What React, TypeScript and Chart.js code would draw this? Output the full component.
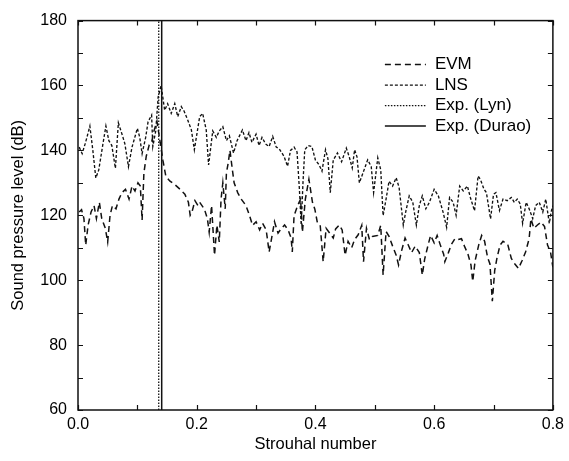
import React, { useEffect, useRef } from "react";
import { Chart, registerables } from "chart.js";
Chart.register(...registerables);

// ---- data ----
const strouhalLns = [
  0.002, 0.007, 0.012, 0.015, 0.020, 0.025, 0.030, 0.035, 0.042, 0.047,
  0.052, 0.057, 0.063, 0.068, 0.075, 0.079, 0.085, 0.091, 0.100, 0.104,
  0.108, 0.114, 0.118, 0.124, 0.126, 0.131, 0.135, 0.140, 0.146, 0.151,
  0.157, 0.163, 0.168, 0.174, 0.179, 0.185, 0.191, 0.196, 0.205, 0.210,
  0.216, 0.220, 0.227, 0.233, 0.238, 0.244, 0.250, 0.255, 0.262, 0.268,
  0.277, 0.283, 0.288, 0.293, 0.300, 0.305, 0.310, 0.316, 0.322, 0.328,
  0.334, 0.339, 0.347, 0.353, 0.358, 0.364, 0.369, 0.373, 0.376, 0.379,
  0.382, 0.388, 0.394, 0.400, 0.406, 0.411, 0.417, 0.421, 0.425, 0.430,
  0.437, 0.444, 0.452, 0.457, 0.462, 0.466, 0.470, 0.474, 0.480, 0.488,
  0.494, 0.498, 0.505, 0.510, 0.514, 0.519, 0.524, 0.530, 0.536, 0.541,
  0.548, 0.552, 0.558, 0.564, 0.570, 0.575, 0.580, 0.586, 0.592, 0.600,
  0.607, 0.615, 0.621, 0.626, 0.632, 0.637, 0.643, 0.649, 0.656, 0.661,
  0.668, 0.674, 0.678, 0.684, 0.688, 0.695, 0.700, 0.704, 0.710, 0.716,
  0.723, 0.730, 0.735, 0.740, 0.745, 0.749, 0.755, 0.760, 0.766, 0.771,
  0.777, 0.783, 0.788, 0.794, 0.797, 0.800,
];
const splLns = [
  141, 139, 142, 144, 147.5, 140, 131.5, 134, 142, 147.5,
  143, 141.5, 134.5, 148.5, 144.5, 142, 135, 141, 146.8, 144,
  139, 144, 148.8, 150.9, 141.2, 146, 156.4, 160, 152.4, 154.4,
  151.4, 154.4, 150.4, 153.5, 152, 149.3, 146.3, 140.2, 150.4, 151.4,
  146.3, 135.5, 146, 144, 146, 147.3, 143, 144.5, 139.2, 143,
  146.3, 143, 145.5, 142.5, 145, 141.5, 144, 142, 141.2, 144.3,
  141, 140.5, 138.2, 135.1, 140, 141, 139.5, 128, 117, 130,
  140.2, 141.5, 141.2, 137, 135.6, 133.6, 140.2, 137.5, 127, 137,
  139.2, 136.5, 140.7, 138, 134.6, 140.2, 138, 130, 133, 137.1,
  135, 127, 137.7, 134, 119.9, 125, 130.5, 129, 131.6, 128.5,
  117, 121, 126, 124, 117, 123, 126, 122, 124, 128,
  126, 121, 116.3, 125.5, 124, 120, 129, 127.5, 129, 125.5,
  121.4, 132.1, 131, 128, 127, 118.9, 126.5, 127, 121.5, 125,
  124.5, 125.5, 124, 125, 123.5, 117.5, 124, 122, 119, 123,
  124, 121, 125, 117.5, 121, 123,
];
const strouhalEvm = [
  0.002, 0.006, 0.010, 0.013, 0.017, 0.022, 0.027, 0.031, 0.036, 0.040,
  0.046, 0.050, 0.054, 0.058, 0.064, 0.069, 0.074, 0.080, 0.086, 0.091,
  0.096, 0.101, 0.105, 0.108, 0.111, 0.115, 0.120, 0.124, 0.128, 0.133,
  0.143, 0.148, 0.155, 0.163, 0.172, 0.180, 0.186, 0.189, 0.192, 0.197,
  0.202, 0.205, 0.213, 0.218, 0.221, 0.225, 0.230, 0.234, 0.238, 0.241,
  0.244, 0.248, 0.250, 0.253, 0.256, 0.260, 0.263, 0.269, 0.275, 0.283,
  0.289, 0.294, 0.300, 0.306, 0.311, 0.317, 0.322, 0.327, 0.331, 0.337,
  0.342, 0.348, 0.354, 0.359, 0.361, 0.364, 0.370, 0.375, 0.378, 0.383,
  0.389, 0.395, 0.399, 0.403, 0.408, 0.413, 0.418, 0.424, 0.430, 0.434,
  0.440, 0.445, 0.450, 0.455, 0.461, 0.466, 0.472, 0.478, 0.481, 0.486,
  0.491, 0.496, 0.505, 0.510, 0.514, 0.519, 0.524, 0.530, 0.536, 0.540,
  0.545, 0.551, 0.556, 0.562, 0.568, 0.575, 0.580, 0.584, 0.590, 0.594,
  0.600, 0.605, 0.611, 0.616, 0.618, 0.624, 0.629, 0.635, 0.640, 0.646,
  0.651, 0.657, 0.662, 0.665, 0.669, 0.675, 0.680, 0.685, 0.690, 0.694,
  0.698, 0.702, 0.706, 0.711, 0.716, 0.724, 0.730, 0.736, 0.742, 0.748,
  0.754, 0.760, 0.763, 0.768, 0.774, 0.780, 0.786, 0.791, 0.796, 0.800,
];
const splEvm = [
  121, 121.7, 119, 110.8, 117, 121, 123, 119, 124, 119,
  116, 111.8, 120, 123, 122, 125, 127, 128, 125, 129,
  127.5, 130, 129, 118.5, 133, 138.2, 141.7, 142.5, 146, 149,
  137, 132, 130.5, 129.5, 128, 126.5, 124, 120, 121, 124.5,
  123, 124, 121.9, 118.9, 114.8, 123, 107.7, 117, 111.8, 125,
  130, 122, 133, 136.1, 140, 134.1, 130, 127, 125, 123,
  119.9, 116.9, 118, 115.5, 117.5, 115.5, 108.7, 113.8, 118, 114.5,
  115.8, 117, 115.5, 113, 108.7, 119.9, 123, 125, 114.8, 125,
  131.1, 124, 121.9, 118, 117, 105.7, 116, 114.5, 113, 115.8,
  117, 115.5, 107.7, 112, 110, 112.5, 114, 116.9, 105.7, 116,
  112.5, 113.5, 113.8, 116.9, 101.6, 115, 113.5, 110.5, 107.7, 104.7,
  109, 113, 111, 108.5, 110.5, 108.5, 101.6, 106.5, 111, 113.8,
  111.5, 113.8, 110.5, 108, 105.7, 108.5, 111, 112.8, 112.5, 112.8,
  110.5, 108, 104.7, 99.6, 106, 110.8, 113.8, 112, 107, 105,
  93.5, 103, 107, 110.8, 112, 111, 106.7, 105, 103.6, 106,
  108.7, 112.8, 118.9, 116, 117, 117.9, 116.5, 110.8, 108.7, 104,
];
const lynStrouhal = 0.136;
const duraoStrouhal = 0.141;
const splRange = [60, 180];
const strouhalRange = [0, 0.8];
const seriesLabels = ["EVM", "LNS", "Exp. (Lyn)", "Exp. (Durao)"];
const xTitle = "Strouhal number";
const yTitle = "Sound pressure level (dB)";

const FONT = "'Liberation Sans', Arial, Helvetica, sans-serif";
const INK = "#111";

const frameTicksLegend = {
  id: "frameTicksLegend",
  afterDraw(chart: any) {
    const { ctx, chartArea: a, scales } = chart;
    ctx.save();
    ctx.strokeStyle = INK;
    ctx.lineWidth = 1.2;
    ctx.setLineDash([]);
    const L = 5;
    ctx.beginPath();
    scales.x.ticks.forEach((t: any) => {
      const px = Math.round(scales.x.getPixelForValue(t.value)) + 0.5;
      ctx.moveTo(px, a.bottom);
      ctx.lineTo(px, a.bottom - L);
      ctx.moveTo(px, a.top);
      ctx.lineTo(px, a.top + L);
    });
    scales.y.ticks.forEach((t: any) => {
      const py = Math.round(scales.y.getPixelForValue(t.value)) + 0.5;
      ctx.moveTo(a.left, py);
      ctx.lineTo(a.left + L, py);
      ctx.moveTo(a.right, py);
      ctx.lineTo(a.right - L, py);
    });
    ctx.stroke();
    ctx.lineWidth = 1.5;
    ctx.strokeRect(a.left, a.top, a.right - a.left, a.bottom - a.top);

    // legend
    ctx.font = `17px ${FONT}`;
    ctx.fillStyle = "#000";
    ctx.textBaseline = "middle";
    ctx.textAlign = "left";
    chart.data.datasets.forEach((ds: any, i: number) => {
      const y = a.top + 44 + i * 20.5;
      ctx.strokeStyle = INK;
      ctx.lineWidth = ds.borderWidth;
      ctx.setLineDash(ds.borderDash || []);
      ctx.beginPath();
      ctx.moveTo(a.right - 168, y);
      ctx.lineTo(a.right - 127, y);
      ctx.stroke();
      ctx.setLineDash([]);
      ctx.fillText(ds.label, a.right - 118, y);
    });
    ctx.restore();
  },
};

export default function App() {
  const ref = useRef<HTMLCanvasElement | null>(null);
  useEffect(() => {
    if (!ref.current) return;
    const pts = (xs: number[], ys: number[]) => xs.map((x, i) => ({ x, y: ys[i] }));
    const vline = (x: number) => [
      { x, y: splRange[0] },
      { x, y: splRange[1] },
    ];
    const chart = new Chart(ref.current, {
      type: "line",
      data: {
        datasets: [
          { label: seriesLabels[0], data: pts(strouhalEvm, splEvm), borderColor: INK, borderWidth: 1.5, borderDash: [6, 4] },
          { label: seriesLabels[1], data: pts(strouhalLns, splLns), borderColor: INK, borderWidth: 1.35, borderDash: [3, 2] },
          { label: seriesLabels[2], data: vline(lynStrouhal), borderColor: INK, borderWidth: 1.3, borderDash: [1.5, 1.5] },
          { label: seriesLabels[3], data: vline(duraoStrouhal), borderColor: INK, borderWidth: 1.5, borderDash: [] },
        ] as any,
      },
      options: {
        animation: false,
        responsive: false,
        devicePixelRatio: 1,
        layout: { padding: { top: 16, right: 14, left: 0, bottom: 0 } },
        elements: { point: { radius: 0 }, line: { tension: 0, fill: false } },
        plugins: { legend: { display: false }, tooltip: { enabled: false } },
        scales: {
          x: {
            type: "linear",
            min: strouhalRange[0],
            max: strouhalRange[1],
            grid: { display: false, drawTicks: false },
            border: { display: false },
            ticks: {
              stepSize: 0.1,
              autoSkip: false,
              maxRotation: 0,
              padding: 5,
              color: "#000",
              font: { family: FONT, size: 16 },
              callback: (v: any, i: number) => (i % 2 === 0 ? Number(v).toFixed(1) : ""),
            },
            title: {
              display: true,
              text: xTitle,
              color: "#000",
              font: { family: FONT, size: 16.5 },
              padding: { top: 0, bottom: 7 },
            },
            afterFit: (s: any) => {
              s.height = 51;
            },
          },
          y: {
            type: "linear",
            min: splRange[0],
            max: splRange[1],
            grid: { display: false, drawTicks: false },
            border: { display: false },
            ticks: {
              stepSize: 10,
              autoSkip: false,
              padding: 11,
              color: "#000",
              font: { family: FONT, size: 16 },
              callback: (v: any) => (Number(v) % 20 === 0 ? String(v) : ""),
            },
            title: {
              display: true,
              text: yTitle,
              color: "#000",
              font: { family: FONT, size: 16.5 },
              padding: { top: 9, bottom: 0 },
            },
            afterFit: (s: any) => {
              s.width = 78;
            },
          },
        },
      } as any,
      plugins: [frameTicksLegend],
    });
    return () => chart.destroy();
  }, []);
  return (
    <div style={{ position: "fixed", left: 0, top: 0, width: 569, height: 461, background: "#fff" }}>
      <canvas ref={ref} width={569} height={461} style={{ display: "block", width: 569, height: 461 }} />
    </div>
  );
}
